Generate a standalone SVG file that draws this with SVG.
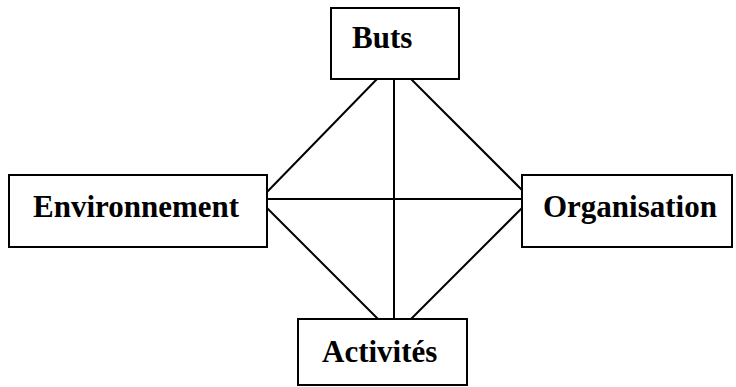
<svg xmlns="http://www.w3.org/2000/svg" width="736" height="387" viewBox="0 0 736 387">
  <style>
    .box { fill: #ffffff; stroke: #000000; stroke-width: 2; }
    .label { font-family: "Liberation Serif", "Times New Roman", serif; font-weight: bold; font-size: 31px; fill: #000000; }
    .link { stroke: #000000; stroke-width: 2; fill: none; }
  </style>
  <rect width="736" height="387" fill="#ffffff"/>

  <!-- connectors between the four elements -->
  <g id="connectors">
    <line class="link" x1="394" y1="79" x2="394" y2="319"/>
    <line class="link" x1="377" y1="79" x2="267" y2="192"/>
    <line class="link" x1="411" y1="79" x2="522" y2="190"/>
    <line class="link" x1="267" y1="199" x2="522" y2="199"/>
    <line class="link" x1="267" y1="208" x2="378" y2="319"/>
    <line class="link" x1="522" y1="208" x2="411" y2="319"/>
  </g>

  <g id="node-buts">
    <rect class="box" x="331" y="8" width="128" height="71"/>
    <text class="label" x="352" y="48">Buts</text>
  </g>

  <g id="node-environnement">
    <rect class="box" x="9" y="175" width="258" height="72"/>
    <text class="label" x="33" y="217">Environnement</text>
  </g>

  <g id="node-organisation">
    <rect class="box" x="522" y="175" width="210" height="72"/>
    <text class="label" x="543" y="217">Organisation</text>
  </g>

  <g id="node-activites">
    <rect class="box" x="298" y="319" width="169" height="66"/>
    <text class="label" x="322" y="362">Activités</text>
  </g>
</svg>
